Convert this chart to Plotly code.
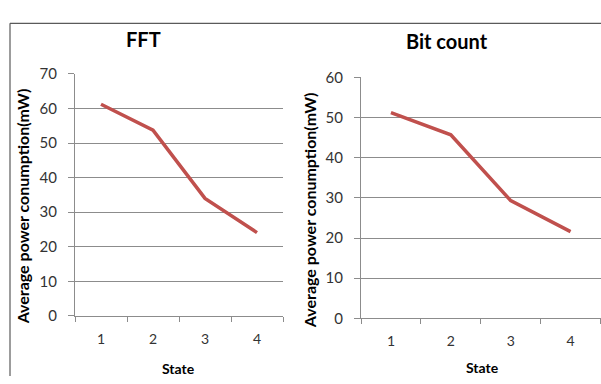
import plotly.graph_objects as go

W, H = 601, 384

states = ["1", "2", "3", "4"]
fft_power = [61.2, 53.7, 34.0, 24.1]
bitcount_power = [51.2, 45.7, 29.3, 21.6]

titles = ["FFT", "Bit count"]
y_title = "Average power conumption(mW)"
x_title = "State"

LINE = "#C0504D"
GRID = "#8C8C8C"
TXT = "#333333"
FONT = "Lato, 'Open Sans', sans-serif"

def px(x):
    return x / W

def py(y):
    return 1 - y / H

fig = go.Figure()
fig.add_trace(go.Scatter(x=states, y=fft_power, mode="lines",
                         line=dict(color=LINE, width=3.5), xaxis="x", yaxis="y",
                         showlegend=False, hoverinfo="skip"))
fig.add_trace(go.Scatter(x=states, y=bitcount_power, mode="lines",
                         line=dict(color=LINE, width=3.5), xaxis="x2", yaxis="y2",
                         showlegend=False, hoverinfo="skip"))

xcommon = dict(type="category", tickson="boundaries", ticks="outside", ticklen=5,
               tickcolor=GRID, showline=True, linecolor=GRID, linewidth=1,
               showgrid=False, zeroline=False, range=[-0.5, 3.5], ticklabelstandoff=10,
               tickfont=dict(family=FONT, size=14, color=TXT), fixedrange=True)
ycommon = dict(ticks="outside", ticklen=6, tickcolor=GRID, showline=True,
               linecolor=GRID, linewidth=1, showgrid=True, gridcolor=GRID,
               gridwidth=1, zeroline=False, dtick=10, ticklabelstandoff=8,
               tickfont=dict(family=FONT, size=15, color=TXT), fixedrange=True)

fig.update_layout(
    width=W, height=H,
    margin=dict(l=0, r=0, t=0, b=0),
    paper_bgcolor="white", plot_bgcolor="white",
    xaxis=dict(domain=[px(75), px(283)], anchor="y", **xcommon),
    yaxis=dict(domain=[py(321), py(67)], anchor="x", range=[0, 70], **ycommon),
    xaxis2=dict(domain=[px(361), px(600.5)], anchor="y2", **xcommon),
    yaxis2=dict(domain=[py(323.5), py(70.7)], anchor="x2", range=[0, 60], **ycommon),
    showlegend=False,
)

ann = []
# chart titles
ann.append(dict(text="<b>" + titles[0] + "</b>", x=px(143), y=py(30), xref="paper", yref="paper",
                showarrow=False, font=dict(family=FONT, size=20, color="black"),
                xanchor="center", yanchor="middle"))
ann.append(dict(text="<b>" + titles[1] + "</b>", x=px(447), y=py(33), xref="paper", yref="paper",
                showarrow=False, font=dict(family=FONT, size=20, color="black"),
                xanchor="center", yanchor="middle"))
# y titles
for xc, yc in [(22, 206), (309, 210)]:
    ann.append(dict(text="<b>" + y_title + "</b>", x=px(xc), y=py(yc), xref="paper", yref="paper",
                    showarrow=False, textangle=-90,
                    font=dict(family=FONT, size=16, color="black"),
                    xanchor="center", yanchor="middle"))
# x titles
for xc, yc in [(178, 376), (482, 375)]:
    ann.append(dict(text="<b>" + x_title + "</b>", x=px(xc), y=py(yc), xref="paper", yref="paper",
                    showarrow=False, font=dict(family=FONT, size=14, color="black"),
                    xanchor="center", yanchor="middle"))
fig.update_layout(annotations=ann)

# outer border lines
fig.add_shape(type="line", xref="paper", yref="paper", x0=px(10), x1=1, y0=py(14), y1=py(14),
              line=dict(color="#5A5A5A", width=1.2))
fig.add_shape(type="line", xref="paper", yref="paper", x0=px(10), x1=px(10), y0=py(14), y1=0,
              line=dict(color="#5A5A5A", width=1.2))

fig.write_html("out.html", config={"displayModeBar": False},
               post_script="document.body.style.margin='0';")
